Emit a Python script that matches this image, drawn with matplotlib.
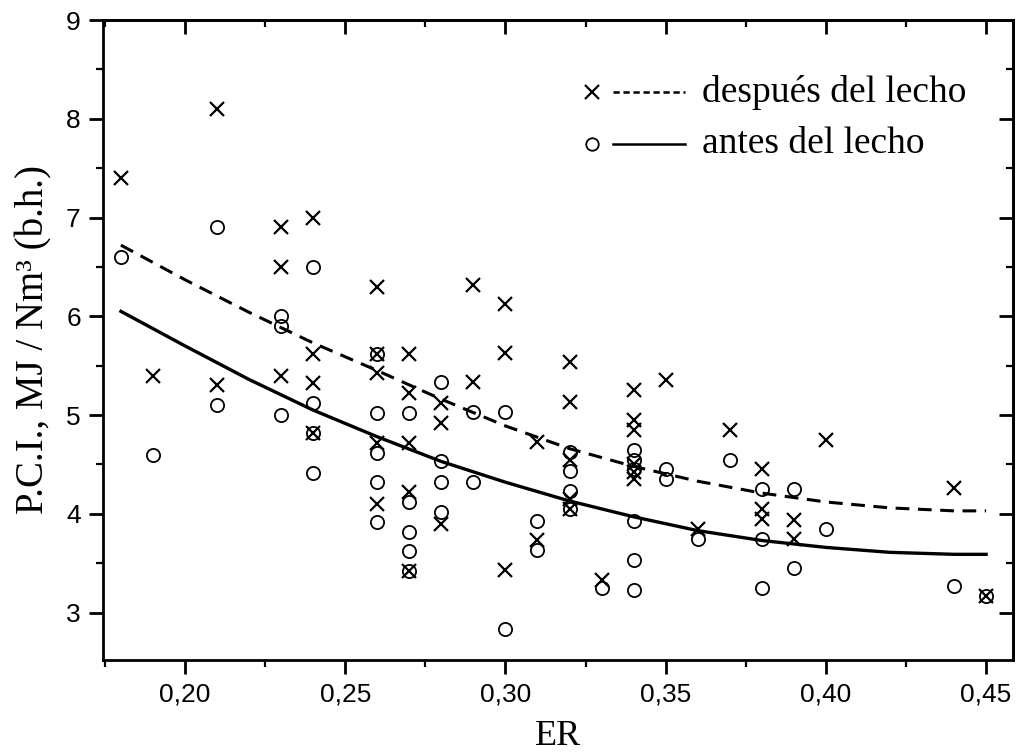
import matplotlib
matplotlib.use("Agg")
import matplotlib.pyplot as plt
from matplotlib.ticker import MultipleLocator, FuncFormatter

# ---- data ----
# "después del lecho" (x markers)
desp_er = [0.18, 0.19, 0.21, 0.21, 0.23, 0.23, 0.23, 0.24, 0.24, 0.24, 0.24,
           0.26, 0.26, 0.26, 0.26, 0.26, 0.27, 0.27, 0.27, 0.27, 0.27,
           0.28, 0.28, 0.28, 0.29, 0.29, 0.30, 0.30, 0.30, 0.31, 0.31,
           0.32, 0.32, 0.32, 0.32, 0.32, 0.33, 0.34, 0.34, 0.34, 0.34, 0.34, 0.34,
           0.35, 0.36, 0.37, 0.38, 0.38, 0.38, 0.39, 0.39, 0.40, 0.44, 0.45]
desp_pci = [7.4, 5.4, 8.1, 5.3, 6.9, 6.5, 5.4, 7.0, 5.62, 5.32, 4.82,
            6.3, 5.62, 5.43, 4.72, 4.1, 5.62, 5.22, 4.72, 4.22, 3.42,
            5.12, 4.92, 3.9, 6.32, 5.33, 6.12, 5.63, 3.43, 4.73, 3.73,
            5.54, 5.13, 4.55, 4.15, 4.05, 3.33, 5.25, 4.95, 4.85, 4.5, 4.42, 4.35,
            5.35, 3.85, 4.85, 4.45, 4.05, 3.95, 3.94, 3.75, 4.75, 4.26, 3.17]

# "antes del lecho" (open circles)
antes_er = [0.18, 0.19, 0.21, 0.21, 0.23, 0.23, 0.23, 0.24, 0.24, 0.24, 0.24,
            0.26, 0.26, 0.26, 0.26, 0.26, 0.27, 0.27, 0.27, 0.27, 0.27,
            0.28, 0.28, 0.28, 0.28, 0.29, 0.29, 0.30, 0.30, 0.31, 0.31,
            0.32, 0.32, 0.32, 0.32, 0.33, 0.34, 0.34, 0.34, 0.34, 0.34, 0.34,
            0.35, 0.35, 0.36, 0.37, 0.38, 0.38, 0.38, 0.39, 0.39, 0.40, 0.44, 0.45]
antes_pci = [6.6, 4.6, 6.9, 5.1, 6.0, 5.9, 5.0, 6.5, 5.12, 4.82, 4.41,
             5.62, 5.02, 4.62, 4.32, 3.92, 5.02, 4.12, 3.82, 3.62, 3.42,
             5.33, 4.53, 4.32, 4.02, 5.03, 4.32, 5.03, 2.83, 3.93, 3.63,
             4.63, 4.43, 4.23, 4.05, 3.25, 4.65, 4.55, 4.45, 3.93, 3.53, 3.23,
             4.45, 4.35, 3.75, 4.55, 4.25, 3.75, 3.25, 4.25, 3.45, 3.85, 3.27, 3.17]

# fitted curves
fit_er = [0.18, 0.20, 0.22, 0.24, 0.26, 0.28, 0.30, 0.32, 0.34, 0.36, 0.38, 0.40, 0.42, 0.44, 0.45]
fit_desp = [6.72, 6.37, 6.04, 5.73, 5.45, 5.16, 4.89, 4.66, 4.48, 4.33, 4.21, 4.12, 4.06, 4.03, 4.03]
fit_antes = [6.05, 5.70, 5.36, 5.05, 4.78, 4.53, 4.32, 4.13, 3.97, 3.83, 3.73, 3.66, 3.61, 3.59, 3.59]

x_major = [0.20, 0.25, 0.30, 0.35, 0.40, 0.45]
y_major = [3, 4, 5, 6, 7, 8, 9]

serif = ["Liberation Serif", "DejaVu Serif"]
sans = ["Liberation Sans", "DejaVu Sans"]

fig = plt.figure(figsize=(10.16, 7.55), dpi=100)
ax = fig.add_axes([103 / 1016, 95 / 755, 910 / 1016, 640 / 755])

ax.plot(fit_er, fit_desp, color="black", lw=2.2, ls=(0, (4.5, 2.8)))
ax.plot(fit_er, fit_antes, color="black", lw=2.4, ls="-")
ax.plot(desp_er, desp_pci, ls="none", marker="x", ms=10.5, mew=1.6, color="black")
ax.plot(antes_er, antes_pci, ls="none", marker="o", ms=9.5, mew=1.3,
        mfc="none", mec="black")

ax.set_xlim(0.1744, 0.4584)
ax.set_ylim(2.52, 9.0)

for s in ax.spines.values():
    s.set_linewidth(2.0)

ax.xaxis.set_major_locator(plt.FixedLocator(x_major))
ax.xaxis.set_minor_locator(MultipleLocator(0.025))
ax.yaxis.set_major_locator(plt.FixedLocator(y_major))
ax.yaxis.set_minor_locator(MultipleLocator(0.5))
ax.xaxis.set_major_formatter(FuncFormatter(lambda v, p: f"{v:.2f}".replace(".", ",")))
ax.yaxis.set_major_formatter(FuncFormatter(lambda v, p: f"{v:.0f}"))
ax.tick_params(which="major", direction="out", length=10, width=2, labelsize=19, pad=6)
ax.tick_params(which="minor", direction="out", length=5, width=1.6)
for lab in ax.get_xticklabels() + ax.get_yticklabels():
    lab.set_fontfamily(sans)

secx = ax.secondary_xaxis("top")
secx.xaxis.set_major_locator(plt.FixedLocator(x_major))
secx.xaxis.set_minor_locator(MultipleLocator(0.025))
secx.tick_params(which="major", direction="in", length=10, width=2, labeltop=False)
secx.tick_params(which="minor", direction="in", length=5, width=1.6)
secx.spines["top"].set_linewidth(2.0)

secy = ax.secondary_yaxis("right")
secy.yaxis.set_major_locator(plt.FixedLocator(y_major))
secy.yaxis.set_minor_locator(MultipleLocator(0.5))
secy.tick_params(which="major", direction="in", length=10, width=2, labelright=False)
secy.tick_params(which="minor", direction="in", length=5, width=1.6)
secy.spines["right"].set_linewidth(2.0)

ax.set_xlabel("ER", fontfamily=serif, fontsize=26, labelpad=10)
ax.set_ylabel("P.C.I., MJ / Nm³ (b.h.)", fontfamily=serif, fontsize=28, labelpad=10)

# legend drawn in axes coordinates
ax.plot([0.537], [0.8875], transform=ax.transAxes, marker="x", ms=10.5, mew=1.6,
        color="black", ls="none")
ax.plot([0.560, 0.640], [0.8875, 0.8875], transform=ax.transAxes, color="black",
        lw=1.8, ls=(0, (2.5, 1.5)))
ax.text(0.658, 0.8875, "después del lecho", transform=ax.transAxes, fontfamily=serif,
        fontsize=27, va="center", ha="left")
ax.plot([0.537], [0.806], transform=ax.transAxes, marker="o", ms=9, mew=1.3,
        mfc="none", mec="black", ls="none")
ax.plot([0.560, 0.640], [0.806, 0.806], transform=ax.transAxes, color="black",
        lw=1.8, ls="-")
ax.text(0.658, 0.806, "antes del lecho", transform=ax.transAxes, fontfamily=serif,
        fontsize=27, va="center", ha="left")

fig.savefig("out.png", dpi=100)
